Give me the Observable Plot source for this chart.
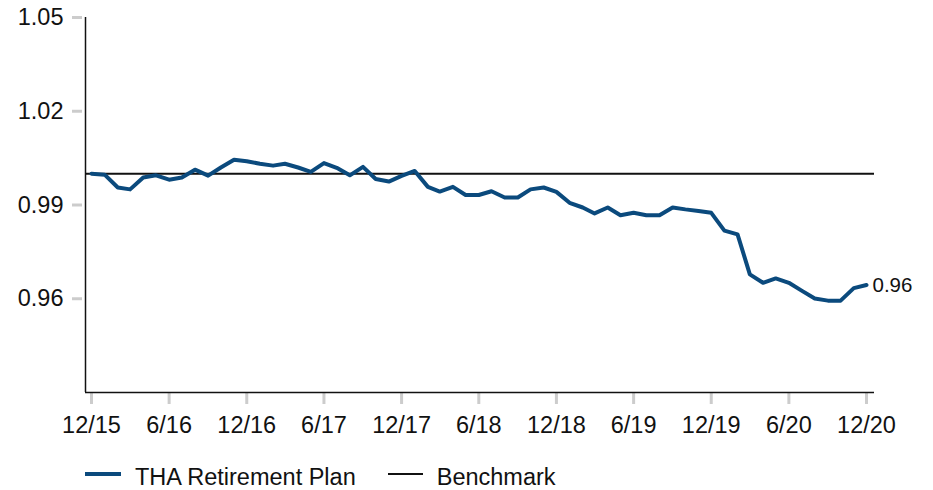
<!DOCTYPE html>
<html><head><meta charset="utf-8">
<script src="https://cdn.jsdelivr.net/npm/d3@7"></script>
<script src="https://cdn.jsdelivr.net/npm/@observablehq/plot@0.6"></script>
<style>
body{margin:0;background:#fff;font-family:"Liberation Sans",Arial,sans-serif;}
#legend{height:35px;display:flex;align-items:center;padding-left:85px;font-size:23.5px;color:#111;white-space:nowrap}
.sw{display:inline-block;width:36px;margin-right:14px;position:relative;top:-4px}
.item{display:inline-flex;align-items:center}
</style></head><body>
<div id="chart"></div>
<div id="legend"></div>
<script>
// Data
const seriesName = "THA Retirement Plan";
const benchmarkName = "Benchmark";
const startMonth = [2015, 12]; // first observation: Dec 2015, then monthly
const planValues = [
  1.000,
  0.9997, 0.9956, 0.9950, 0.9988, 0.9995, 0.9981, 0.9988, 1.0013, 0.9994, 1.0020, 1.0045, 1.0040,
  1.0032, 1.0026, 1.0032, 1.0020, 1.0006, 1.0034, 1.0019, 0.9995, 1.0022, 0.9983, 0.9975, 0.9993,
  1.0009, 0.9958, 0.9943, 0.9958, 0.9932, 0.9932, 0.9944, 0.9924, 0.9924, 0.9950, 0.9956, 0.9942,
  0.9907, 0.9892, 0.9873, 0.9892, 0.9867, 0.9875, 0.9867, 0.9867, 0.9892, 0.9886, 0.9881, 0.9875,
  0.9818, 0.9806, 0.9678, 0.9651, 0.9665, 0.9651, 0.9626, 0.9601, 0.9594, 0.9594, 0.9634, 0.9644
];
const benchmarkValue = 1.0;
const xTickLabels = ["12/15","6/16","12/16","6/17","12/17","6/18","12/18","6/19","12/19","6/20","12/20"];
const yTicks = [0.96, 0.99, 1.02, 1.05];
const yDomain = [0.93, 1.05];

// Build tables
const toDate = (y, m) => new Date(Date.UTC(y, m - 1, 1));
const d0 = toDate(startMonth[0], startMonth[1]);
const data = planValues.map((v, i) => ({date: d3.utcMonth.offset(d0, i), value: v}));
const d1 = data[data.length - 1].date;
const tickDates = xTickLabels.map(s => { const [m, y] = s.split("/").map(Number); return toDate(2000 + y, m); });
const labelOf = new Map(tickDates.map((d, i) => [+d, xTickLabels[i]]));
const last = data[data.length - 1];

const chart = Plot.plot({
  width: 933, height: 460,
  marginLeft: 85, marginRight: 59, marginTop: 17, marginBottom: 68,
  style: {fontFamily: "'Liberation Sans', Arial, sans-serif", fontSize: "23.5px", color: "#111", background: "#fff", overflow: "visible"},
  x: {type: "utc", domain: [d0, d1], insetLeft: 6, insetRight: 8, label: null},
  y: {domain: yDomain, label: null},
  marks: [
    Plot.ruleY([benchmarkValue], {stroke: "#111", strokeWidth: 2}),
    Plot.lineY(data, {x: "date", y: "value", stroke: "#0b4a7d", strokeWidth: 4, strokeLinejoin: "round"}),
    Plot.text([last], {x: "date", y: "value", text: d => d3.format(".2f")(d.value), dx: 6, textAnchor: "start", fontSize: 20.5, fill: "#111"}),
    Plot.axisY({ticks: yTicks, tickFormat: d3.format(".2f"), tickSize: 10, tickPadding: 9, dx: -3, stroke: "#ccc", strokeWidth: 3, fill: "#111", label: null}),
    Plot.axisX({ticks: tickDates, tickFormat: d => labelOf.get(+d), tickSize: 12, tickPadding: 12, stroke: "#ccc", strokeWidth: 3, fill: "#111", label: null}),
    Plot.ruleY([yDomain[0]], {stroke: "#111", strokeWidth: 1.5}),
    Plot.ruleX([d0], {dx: -6, stroke: "#111", strokeWidth: 1.5})
  ]
});
document.getElementById("chart").appendChild(chart);

const legend = document.getElementById("legend");
legend.innerHTML =
  `<span class="item"><span class="sw" style="height:4px;background:#0b4a7d"></span>${seriesName}</span>` +
  `<span class="item" style="margin-left:32px"><span class="sw" style="width:35px;height:2px;background:#111"></span>${benchmarkName}</span>`;
</script>
</body></html>
